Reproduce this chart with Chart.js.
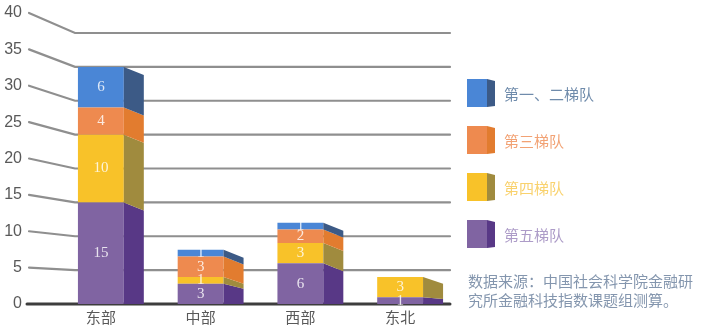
<!DOCTYPE html>
<html>
<head>
<meta charset="utf-8">
<script src="https://cdn.jsdelivr.net/npm/chart.js@4.4.1/dist/chart.umd.min.js"></script>
<style>
  html,body{margin:0;padding:0;background:#fff;}
</style>
</head>
<body>
<canvas id="chart" width="703" height="332"></canvas>
<script>
/* ---------- данные ---------- */
const categories = ['东部', '中部', '西部', '东北'];
const seriesNames = ['第五梯队', '第四梯队', '第三梯队', '第一、二梯队'];   // снизу вверх
const tier5  = [15, 3, 6, 1];
const tier4  = [10, 1, 3, 3];
const tier3  = [4, 3, 2, 0];
const tier12 = [6, 1, 1, 0];
const yTicks = [0, 5, 10, 15, 20, 25, 30, 35, 40];
const sourceLines = ['数据来源：中国社会科学院金融研', '究所金融科技指数课题组测算。'];

/* ---------- стили ---------- */
const frontColors = ['#8064a2', '#f8c229', '#ee8a4f', '#4a86d6'];
const sideColors  = ['#583886', '#a08b3e', '#e27c2f', '#3c5a86'];
const legendText  = ['#ad9cc8', '#f9d26e', '#f2a274', '#6f8bab'];
const cjk = '"Noto Sans CJK SC", "Noto Sans", sans-serif';
const SIDE_W = 20;

const $ = id => document.getElementById(id);

/* ---------- 3D-грани, сетка, легенда ---------- */
const deco = {
  id: 'deco',
  beforeDatasetsDraw(chart){
    const {ctx, chartArea} = chart;
    const ys = chart.scales.y, yl = chart.scales.yl;
    const xa = yl.right - 22, xb = chartArea.left + 24;
    ctx.save();
    ctx.lineCap = 'round';
    yTicks.forEach(v=>{
      const a = yl.getPixelForValue(v), b = ys.getPixelForValue(v);
      ctx.beginPath();
      if(v === 0){
        ctx.strokeStyle = '#3d3d3d'; ctx.lineWidth = 3;
        ctx.moveTo(xa - 2, b); ctx.lineTo(chartArea.right, b);
      }else{
        ctx.strokeStyle = '#8f8f8f'; ctx.lineWidth = 2.2;
        ctx.moveTo(xa, a); ctx.lineTo(xb, b); ctx.lineTo(chartArea.right, b);
      }
      ctx.stroke();
    });
    ctx.restore();
  },
  afterDatasetsDraw(chart){
    const {ctx} = chart;
    const floor = chart.scales.y.getPixelForValue(0);
    const drop = y => Math.min(8, (floor - y) * 0.25);
    ctx.save();
    chart.data.datasets.forEach((ds, i)=>{
      chart.getDatasetMeta(i).data.forEach((bar, j)=>{
        if(!ds.data[j]) return;
        const r = bar.x + bar.width/2;
        ctx.fillStyle = sideColors[i];
        ctx.beginPath();
        ctx.moveTo(r, bar.y);
        ctx.lineTo(r + SIDE_W, bar.y + drop(bar.y));
        ctx.lineTo(r + SIDE_W, bar.base + drop(bar.base));
        ctx.lineTo(r, bar.base);
        ctx.closePath();
        ctx.fill();
        // подпись значения
        ctx.fillStyle = 'rgba(255,255,255,0.82)';
        ctx.font = '15px "Liberation Serif", serif';
        ctx.textAlign = 'center';
        ctx.textBaseline = 'middle';
        ctx.fillText(ds.data[j], bar.x, (bar.y + bar.base)/2);
      });
    });
    ctx.restore();
  },
  afterDraw(chart){
    const {ctx, chartArea} = chart;
    const x0 = chartArea.right + 17;
    ctx.save();
    ctx.font = '15px ' + cjk;
    ctx.textBaseline = 'middle';
    ctx.textAlign = 'left';
    for(let k = 0; k < seriesNames.length; k++){
      const i = seriesNames.length - 1 - k;
      const cy = 93 + k*47;
      ctx.fillStyle = frontColors[i];
      ctx.fillRect(x0, cy - 14, 20, 28);
      ctx.fillStyle = sideColors[i];
      ctx.beginPath();
      ctx.moveTo(x0 + 20, cy - 14);
      ctx.lineTo(x0 + 28, cy - 12);
      ctx.lineTo(x0 + 28, cy + 13);
      ctx.lineTo(x0 + 20, cy + 14);
      ctx.closePath();
      ctx.fill();
      ctx.fillStyle = legendText[i];
      ctx.fillText(seriesNames[i], x0 + 37, cy + 1);
    }
    ctx.fillStyle = '#8496ae';
    sourceLines.forEach((s, n)=> ctx.fillText(s, x0 + 1, 281 + n*19));
    ctx.restore();
  }
};

/* ---------- график ---------- */
const datasets = [tier5, tier4, tier3, tier12].map((d, i)=>({
  label: seriesNames[i],
  data: d,
  backgroundColor: frontColors[i],
  borderWidth: 0,
  yAxisID: 'y',
  barPercentage: 0.46,
  categoryPercentage: 1
}));

new Chart($('chart').getContext('2d'), {
  type: 'bar',
  data: {labels: categories, datasets},
  plugins: [deco],
  options: {
    responsive: false,
    animation: false,
    layout: {padding: {top: 13, right: 253, bottom: 2, left: 0}},
    plugins: {legend: {display: false}, tooltip: {enabled: false}},
    scales: {
      x: {
        stacked: true,
        grid: {display: false, drawTicks: false},
        border: {display: false},
        ticks: {color: '#595959', font: {size: 15, family: cjk}, padding: 4}
      },
      y: {
        stacked: true,
        display: false,
        min: 0,
        max: 40 * 291 / 271
      },
      yl: {
        position: 'left',
        min: 0,
        max: 40,
        grid: {display: false, drawTicks: false},
        border: {display: false},
        ticks: {stepSize: 5, color: '#595959', padding: 29,
                font: {size: 16, family: '"Liberation Sans", Arial, sans-serif'}},
        afterFit: s => { s.width = 51; s.paddingTop = 0; s.paddingBottom = 0; }
      }
    }
  }
});
</script>
</body>
</html>
